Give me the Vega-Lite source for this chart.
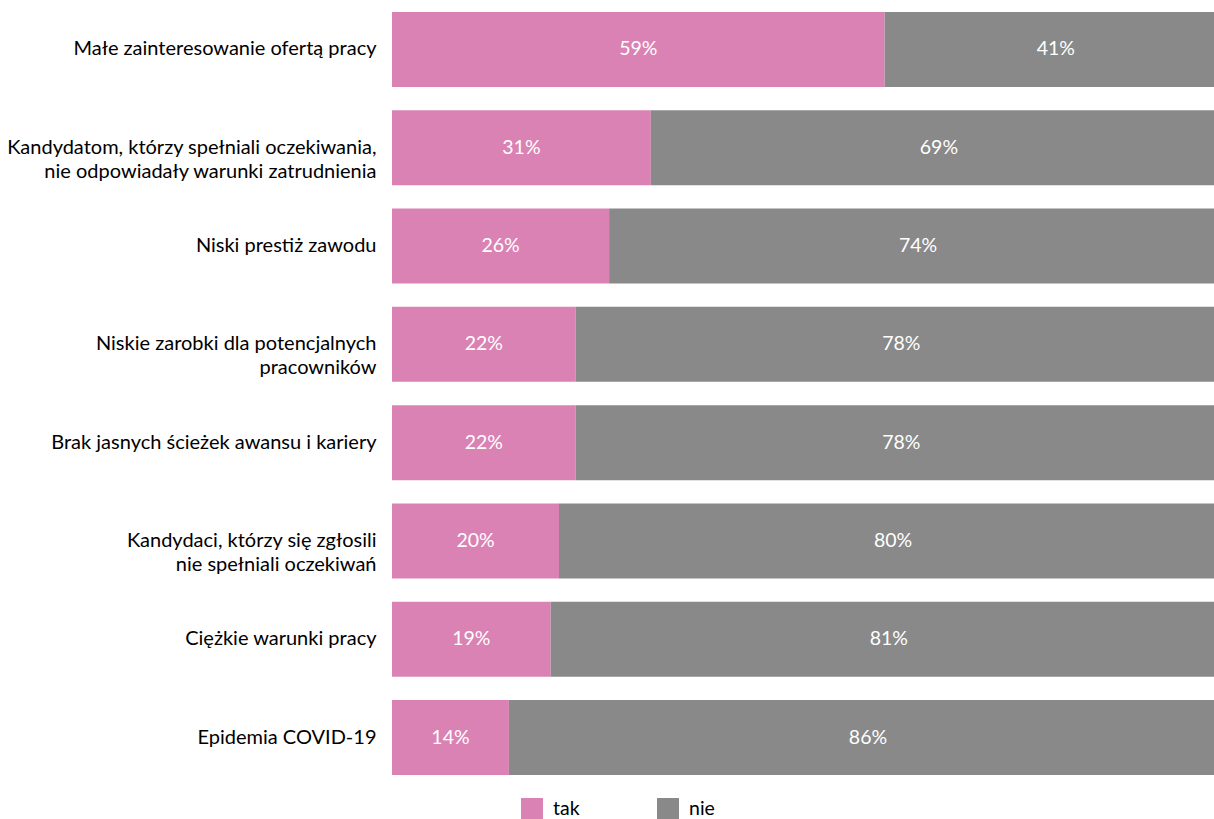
{
  "$schema": "https://vega.github.io/schema/vega-lite/v6.json",
  "autosize": "none",
  "width": 835,
  "height": 787,
  "padding": {"left": 392, "top": 0, "right": 0, "bottom": 32},
  "background": "white",
  "config": {"view": {"stroke": null}, "font": "Lato"},
  "data": {"values": [
    {"cat": "Małe zainteresowanie ofertą pracy", "answer": "tak", "ord": 1, "value": 0.59},
    {"cat": "Małe zainteresowanie ofertą pracy", "answer": "nie", "ord": 2, "value": 0.41},
    {"cat": "Kandydatom, którzy spełniali oczekiwania,|nie odpowiadały warunki zatrudnienia", "answer": "tak", "ord": 1, "value": 0.31},
    {"cat": "Kandydatom, którzy spełniali oczekiwania,|nie odpowiadały warunki zatrudnienia", "answer": "nie", "ord": 2, "value": 0.69},
    {"cat": "Niski prestiż zawodu", "answer": "tak", "ord": 1, "value": 0.26},
    {"cat": "Niski prestiż zawodu", "answer": "nie", "ord": 2, "value": 0.74},
    {"cat": "Niskie zarobki dla potencjalnych|pracowników", "answer": "tak", "ord": 1, "value": 0.22},
    {"cat": "Niskie zarobki dla potencjalnych|pracowników", "answer": "nie", "ord": 2, "value": 0.78},
    {"cat": "Brak jasnych ścieżek awansu i kariery", "answer": "tak", "ord": 1, "value": 0.22},
    {"cat": "Brak jasnych ścieżek awansu i kariery", "answer": "nie", "ord": 2, "value": 0.78},
    {"cat": "Kandydaci, którzy się zgłosili|nie spełniali oczekiwań", "answer": "tak", "ord": 1, "value": 0.20},
    {"cat": "Kandydaci, którzy się zgłosili|nie spełniali oczekiwań", "answer": "nie", "ord": 2, "value": 0.80},
    {"cat": "Ciężkie warunki pracy", "answer": "tak", "ord": 1, "value": 0.19},
    {"cat": "Ciężkie warunki pracy", "answer": "nie", "ord": 2, "value": 0.81},
    {"cat": "Epidemia COVID-19", "answer": "tak", "ord": 1, "value": 0.14},
    {"cat": "Epidemia COVID-19", "answer": "nie", "ord": 2, "value": 0.86}
  ]},
  "encoding": {
    "y": {
      "field": "cat",
      "type": "nominal",
      "sort": null,
      "title": null,
      "scale": {"paddingInner": 0.237, "paddingOuter": 0.122},
      "axis": {
        "domain": false,
        "ticks": false,
        "labelExpr": "split(datum.label, '|')",
        "labelFontSize": 20,
        "labelColor": "#000000",
        "labelPadding": 16,
        "labelLineHeight": 24,
        "labelLimit": 400
      }
    }
  },
  "layer": [
    {
      "mark": {"type": "bar"},
      "encoding": {
        "x": {"field": "value", "type": "quantitative", "stack": "zero", "scale": {"domain": [0, 1]}, "axis": null},
        "order": {"field": "ord"},
        "color": {
          "field": "answer",
          "type": "nominal",
          "scale": {"domain": ["tak", "nie"], "range": ["#DB82B4", "#898989"]},
          "legend": {
            "title": null,
            "orient": "none",
            "direction": "horizontal",
            "legendX": 129,
            "legendY": 798,
            "symbolType": "square",
            "symbolSize": 484,
            "symbolStrokeWidth": 0,
            "symbolOpacity": 1,
            "labelFontSize": 19.5,
            "labelColor": "#000000",
            "labelOffset": 10,
            "columnPadding": 77
          }
        }
      }
    },
    {
      "mark": {"type": "text", "color": "white", "fontSize": 19.5, "align": "center", "baseline": "middle"},
      "encoding": {
        "x": {"field": "value", "type": "quantitative", "stack": "zero", "bandPosition": 0.5},
        "order": {"field": "ord"},
        "detail": {"field": "answer"},
        "text": {"field": "value", "type": "quantitative", "format": ".0%"}
      }
    }
  ]
}
